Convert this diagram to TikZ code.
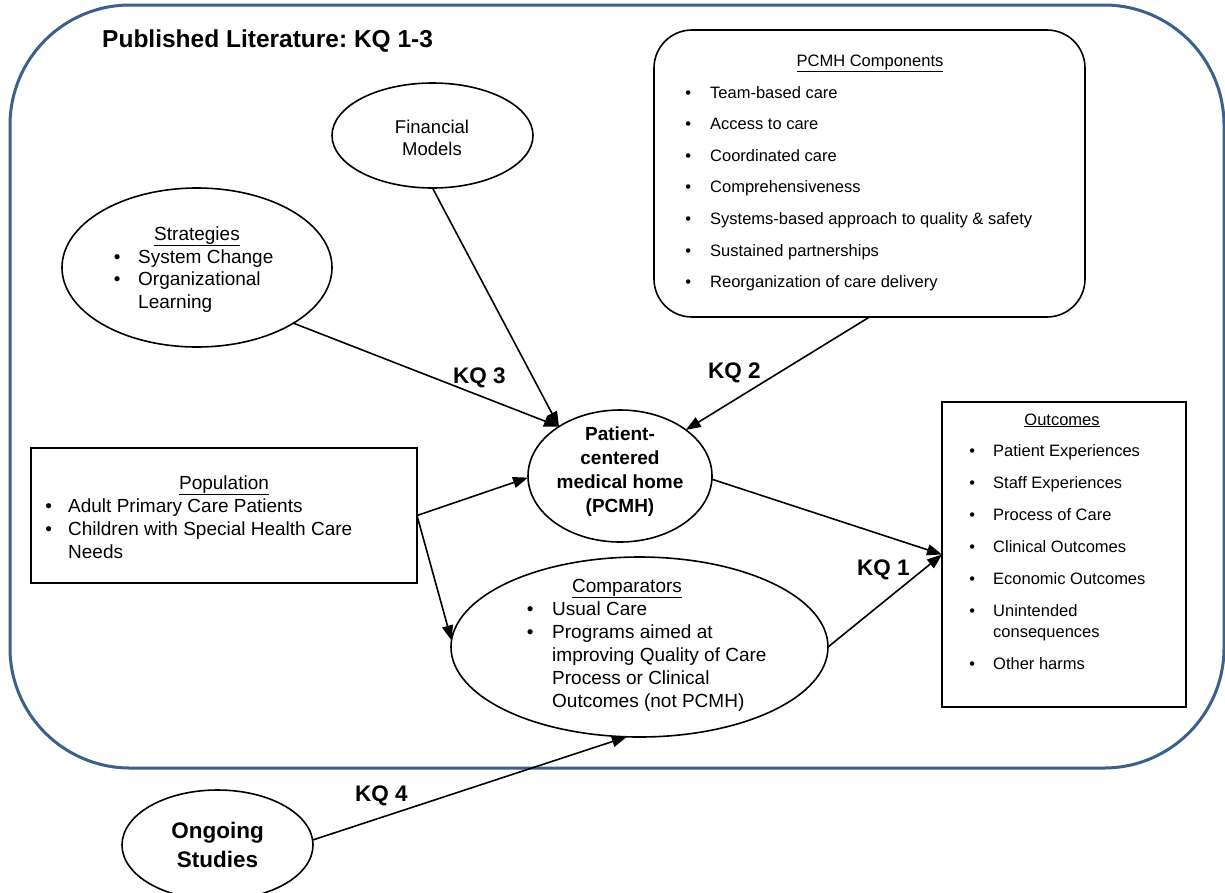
\documentclass[tikz,border=0pt]{standalone}
\usepackage{fontspec}
\setmainfont{Liberation Sans}
\usetikzlibrary{shapes.geometric,arrows.meta}
\definecolor{frameblue}{RGB}{60,96,140}
\newcommand{\fsz}[2]{\fontsize{#1}{#2}\selectfont}
\newcommand{\bu}{\textbullet}
\frenchspacing
\begin{document}
\begin{tikzpicture}[x=1pt,y=-1pt,
  ell/.style={ellipse, draw, line width=1.6pt, inner sep=0pt, outer sep=0pt},
  box/.style={rectangle, draw, line width=2pt, inner sep=0pt, outer sep=0pt},
  conn/.style={line width=1.6pt, -{Triangle[length=15pt,width=11pt]}},
  kq/.style={font=\fsz{22.5}{27}\bfseries, anchor=base west, inner sep=0pt},
  txt/.style={inner sep=0pt, anchor=base},
  lst/.style={inner sep=0pt, anchor=base west},
]
\useasboundingbox (0,0) rectangle (1225,892);
\draw[frameblue, line width=3pt, rounded corners=120pt] (10,5) rectangle (1224,768);

% title
\node[lst, font=\fsz{24.5}{29}\bfseries] (title) at (102,47) {Published Literature: KQ 1-3};

% shapes
\node[ell, minimum width=201pt, minimum height=105pt] (fin) at (432.5,135.5) {};
\node[ell, minimum width=270pt, minimum height=159pt] (strat) at (197,267.5) {};
\node[draw, line width=1.6pt, rounded corners=38pt, minimum width=431pt, minimum height=287pt, inner sep=0pt, outer sep=0pt] (comps) at (869.5,173.5) {};
\node[ell, minimum width=184pt, minimum height=132pt] (pcmh) at (620,476) {};
\node[box, minimum width=386pt, minimum height=135pt] (pop) at (224,515.5) {};
\node[ell, minimum width=377pt, minimum height=180pt] (cmp) at (639.5,647) {};
\node[box, minimum width=244pt, minimum height=305pt] (out) at (1064,554.5) {};
\node[ell, minimum width=191pt, minimum height=110pt] (ong) at (217.5,845) {};

% Financial Models
\node[txt, font=\fsz{18.5}{22}] (fintext) at (432,133)
  {\begin{tabular}[t]{@{}c@{}}Financial\\Models\end{tabular}};

% Strategies
\node[txt, font=\fsz{19}{22.8}] (strattitle) at (197,240) {\underline{Strategies}};
\node[lst, font=\fsz{19}{22.8}] (stratlist) at (113.7,263)
  {\begin{tabular}[t]{@{}p{24.3pt}@{}l@{}}\bu & System Change\\ \bu & Organizational\\ & Learning\end{tabular}};

% PCMH Components
\node[txt, font=\fsz{16.5}{20}] (compstitle) at (870,66) {\underline{PCMH Components}};
\node[lst, font=\fsz{16.5}{31.6}] (compslist) at (685.1,98)
  {\begin{tabular}[t]{@{}p{24.9pt}@{}l@{}}
  \bu & Team-based care\\
  \bu & Access to care\\
  \bu & Coordinated care\\
  \bu & Comprehensiveness\\
  \bu & Systems-based approach to quality \& safety\\
  \bu & Sustained partnerships\\
  \bu & Reorganization of care delivery
  \end{tabular}};

% PCMH
\node[txt, font=\fsz{19}{24}\bfseries] (pcmhtext) at (620,440)
  {\begin{tabular}[t]{@{}c@{}}Patient-\\centered\\medical home\\(PCMH)\end{tabular}};

% Population
\node[txt, font=\fsz{19}{23}] (poptitle) at (224,489) {\underline{Population}};
\node[lst, font=\fsz{19}{23}] (poplist) at (45.2,512)
  {\begin{tabular}[t]{@{}p{22.8pt}@{}l@{}}\bu & Adult Primary Care Patients\\ \bu & Children with Special Health Care\\ & Needs\end{tabular}};

% Comparators
\node[txt, font=\fsz{19}{23}] (cmptitle) at (627,592) {\underline{Comparators}};
\node[lst, font=\fsz{19}{23}] (cmplist) at (526.7,615)
  {\begin{tabular}[t]{@{}p{25.3pt}@{}l@{}}\bu & Usual Care\\ \bu & Programs aimed at\\ & improving Quality of Care\\ & Process or Clinical\\ & Outcomes (not PCMH)\end{tabular}};

% Outcomes
\node[txt, font=\fsz{16.5}{21}] (outtitle) at (1062,425) {\underline{Outcomes}};
\node[lst, font=\fsz{16.5}{21}] (outlist) at (969.1,456)
  {\begin{tabular}[t]{@{}p{23.9pt}@{}l@{}}
  \bu & Patient Experiences\\[11pt]
  \bu & Staff Experiences\\[11pt]
  \bu & Process of Care\\[11pt]
  \bu & Clinical Outcomes\\[11pt]
  \bu & Economic Outcomes\\[11pt]
  \bu & Unintended\\
      & consequences\\[11pt]
  \bu & Other harms
  \end{tabular}};

% Ongoing Studies
\node[txt, font=\fsz{22.5}{29}\bfseries] (ongtext) at (217.5,838)
  {\begin{tabular}[t]{@{}c@{}}Ongoing\\Studies\end{tabular}};

% KQ labels
\node[kq] (kq3) at (453,383) {KQ 3};
\node[kq] (kq2) at (708,378) {KQ 2};
\node[kq] (kq1) at (857,575) {KQ 1};
\node[kq] (kq4) at (355,801) {KQ 4};

% connectors
\draw[conn] (fin.south) -- (pcmh.141);
\draw[conn] (strat.330) -- (pcmh.141);
\draw[conn] (comps.south) -- (pcmh.35);
\draw[conn] (pop.east) -- (pcmh.181);
\draw[conn] (pop.east) -- (cmp.178);
\draw[conn] (pcmh.358) -- (out.west);
\draw[conn] (cmp.east) -- (out.west);
\draw[conn] (ong.3) -- (cmp.262);
\end{tikzpicture}
\end{document}
